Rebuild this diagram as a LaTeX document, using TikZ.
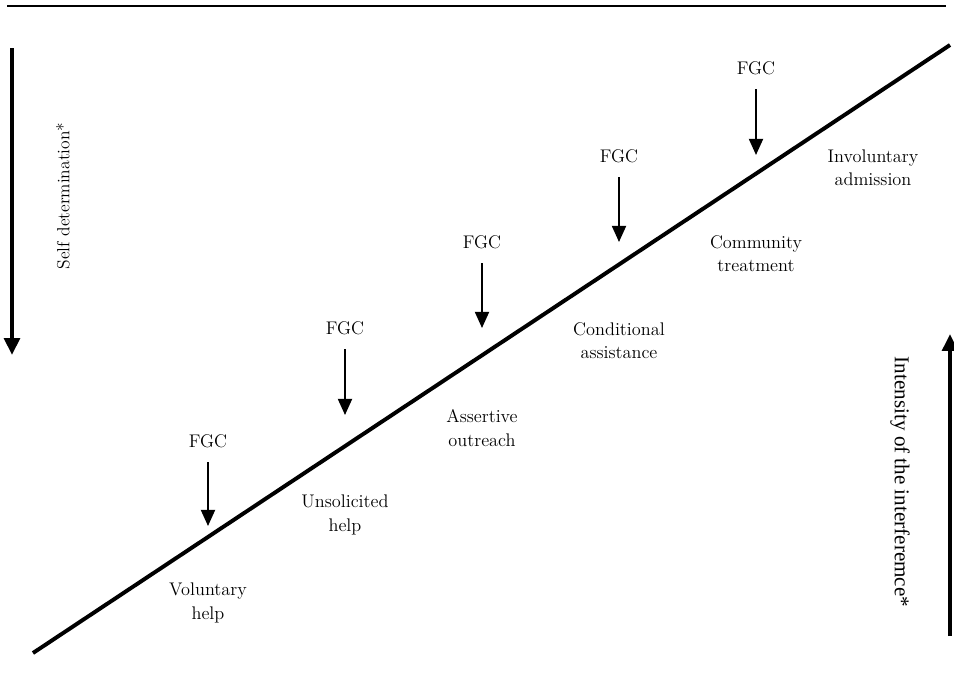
\documentclass[tikz,border=0pt]{standalone}
\usepackage{fontspec}
\newfontfamily\timesfont{Liberation Serif}
\usetikzlibrary{arrows.meta}

\begin{document}
\begin{tikzpicture}[x=0.025cm, y=-0.025cm,
        lbl/.style={align=center, font=\fontsize{13}{16.5}\selectfont},
        fgcarrow/.style={line width=1.4pt, shorten <=7pt, -{Triangle[length=11.5pt, width=10pt]}},
        bigarrow/.style={line width=2.8pt, -{Triangle[length=12pt, width=11pt]}}]
        \useasboundingbox (0,0) rectangle (954,699);
        % Rule at the top and the main diagonal.
            \coordinate (ruleL) at (7,6);
            \coordinate (ruleR) at (946,6);
            \draw[line width=1.9pt] (ruleL) -- (ruleR);
            \coordinate (diagL) at (33,653);
            \coordinate (diagR) at (950,45);
            \draw[line width=2.8pt] (diagL) -- (diagR);
        % Below nodes are the stages.
            \node[lbl] (stage1) at (208,603) {Voluntary\\help};
            \node[lbl] (stage2) at (345,515) {Unsolicited\\help};
            \node[lbl] (stage3) at (482,428) {Assertive\\outreach};
            \node[lbl] (stage4) at (619,341) {Conditional\\assistance};
            \node[lbl] (stage5) at (756,254) {Community\\treatment};
            \node[lbl] (stage6) at (873,168) {Involuntary\\admission};
        % FGC labels with their arrows.
            \node[lbl] (fgc1) at (208,441) {FGC};
            \node[lbl] (fgc2) at (345,328) {FGC};
            \node[lbl] (fgc3) at (482,242) {FGC};
            \node[lbl] (fgc4) at (619,156) {FGC};
            \node[lbl] (fgc5) at (756,68) {FGC};
            \coordinate (tip1) at (208,526);
            \coordinate (tip2) at (345,415);
            \coordinate (tip3) at (482,328);
            \coordinate (tip4) at (619,242);
            \coordinate (tip5) at (756,155);
            \draw[fgcarrow] (fgc1) -- (tip1);
            \draw[fgcarrow] (fgc2) -- (tip2);
            \draw[fgcarrow] (fgc3) -- (tip3);
            \draw[fgcarrow] (fgc4) -- (tip4);
            \draw[fgcarrow] (fgc5) -- (tip5);
        % The two side arrows.
            \coordinate (sdtop) at (12,48);
            \coordinate (sdend) at (12,355);
            \draw[bigarrow] (sdtop) -- (sdend);
            \node[lbl, rotate=90, font=\fontsize{12.5}{15}\selectfont] (selfdet) at (63,196) {Self determination*};
            \coordinate (intbot) at (950,636);
            \coordinate (inttop) at (950,334);
            \draw[bigarrow] (intbot) -- (inttop);
            \node[rotate=-90, font=\timesfont\fontsize{15}{18}\selectfont] (intens) at (900,482) {Intensity of the interferemce*};
    \end{tikzpicture}
\end{document}
